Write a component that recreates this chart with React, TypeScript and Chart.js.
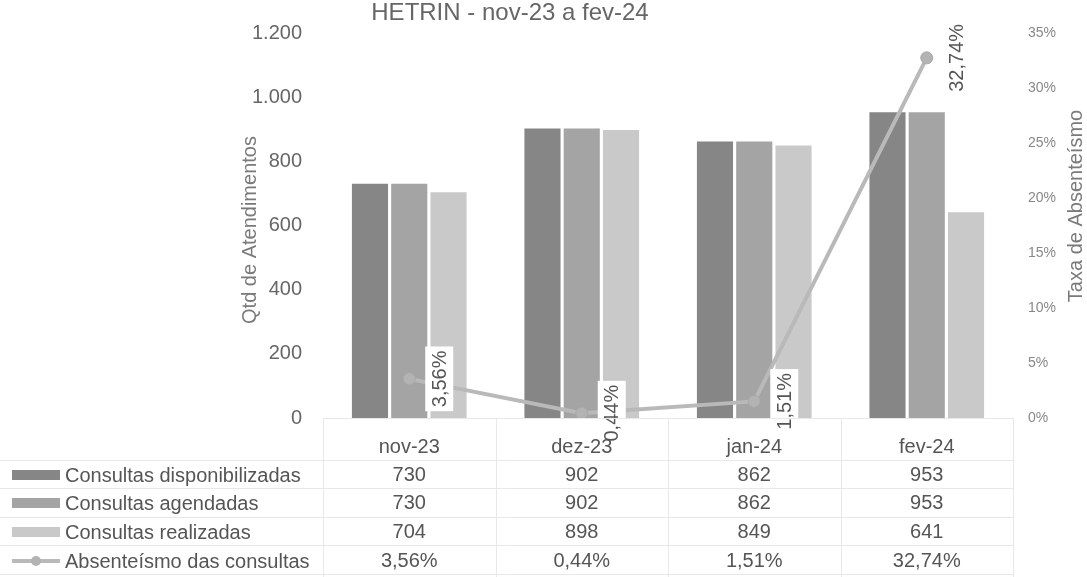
import React, { useEffect, useRef } from 'react';
import { Chart, registerables } from 'chart.js';

Chart.register(...registerables);

const categories = ['nov-23', 'dez-23', 'jan-24', 'fev-24'];
const disponibilizadas = [730, 902, 862, 953];
const agendadas = [730, 902, 862, 953];
const realizadas = [704, 898, 849, 641];
const absenteismo = [3.56, 0.44, 1.51, 32.74];
const seriesNames = [
  'Consultas disponibilizadas',
  'Consultas agendadas',
  'Consultas realizadas',
  'Absenteísmo das consultas',
];
const chartTitle = 'HETRIN - nov-23 a fev-24';
const leftAxisTitle = 'Qtd de Atendimentos';
const rightAxisTitle = 'Taxa de Absenteísmo';

const W = 1087;
const H = 577;
const FONT = "'Liberation Sans', Arial, sans-serif";
const barColors = ['#868686', '#a4a4a4', '#c9c9c9'];
const lineColor = '#b9b9b9';

const fmtInt = (v: number) => String(v).replace(/\B(?=(\d{3})+(?!\d))/g, '.');
const fmtPct = (v: number) => v.toFixed(2).replace('.', ',') + '%';

export default function App() {
  const ref = useRef<HTMLCanvasElement>(null);

  useEffect(() => {
    const canvas = ref.current!;

    const decorPlugin = {
      id: 'decor',
      afterDatasetsDraw(chart: any) {
        const ctx = chart.ctx;
        const meta = chart.getDatasetMeta(3);
        ctx.save();
        ctx.font = `20px ${FONT}`;
        meta.data.forEach((pt: any, i: number) => {
          const txt = fmtPct(absenteismo[i]);
          const w = ctx.measureText(txt).width;
          ctx.save();
          ctx.translate(pt.x + 30, pt.y);
          ctx.rotate(-Math.PI / 2);
          ctx.fillStyle = '#ffffff';
          ctx.fillRect(-w / 2 - 4, -14, w + 8, 28);
          ctx.fillStyle = '#555555';
          ctx.textAlign = 'center';
          ctx.textBaseline = 'middle';
          ctx.fillText(txt, 0, 1);
          ctx.restore();
        });
        ctx.restore();
      },
      afterDraw(chart: any) {
        const ctx = chart.ctx;
        const xs = chart.scales.x;
        const area = chart.chartArea;
        ctx.save();
        ctx.font = `24px ${FONT}`;
        ctx.fillStyle = '#666666';
        ctx.textAlign = 'center';
        ctx.textBaseline = 'middle';
        ctx.fillText(chartTitle, 510, 13);

        ctx.font = `20px ${FONT}`;
        ctx.fillStyle = '#7a7a7a';
        ctx.save();
        ctx.translate(250, 230);
        ctx.rotate(-Math.PI / 2);
        ctx.fillText(leftAxisTitle, 0, 0);
        ctx.restore();
        ctx.save();
        ctx.translate(1076, 206);
        ctx.rotate(-Math.PI / 2);
        ctx.fillText(rightAxisTitle, 0, 0);
        ctx.restore();

        const bounds = [area.bottom, 461, 489, 518, 546, 575];
        const rowY = [475, 503, 532, 561];
        const headerY = 447;
        ctx.strokeStyle = '#e8e8e8';
        ctx.lineWidth = 1;
        ctx.beginPath();
        ctx.moveTo(area.left, area.bottom + 0.5);
        ctx.lineTo(area.right, area.bottom + 0.5);
        for (let r = 1; r < bounds.length; r++) {
          ctx.moveTo(0, bounds[r] - 0.5);
          ctx.lineTo(area.right, bounds[r] - 0.5);
        }
        const step = (area.right - area.left) / categories.length;
        for (let c = 0; c <= categories.length; c++) {
          const x = Math.round(area.left + c * step) + 0.5;
          ctx.moveTo(x, area.bottom);
          ctx.lineTo(x, H);
        }
        ctx.stroke();

        ctx.font = `20px ${FONT}`;
        ctx.fillStyle = '#555555';
        ctx.textAlign = 'center';
        ctx.textBaseline = 'middle';
        const rows = [disponibilizadas, agendadas, realizadas];
        categories.forEach((cat, i) => {
          const x = xs.getPixelForValue(i);
          ctx.fillText(cat, x, headerY);
          rows.forEach((row, r) => ctx.fillText(fmtInt(row[i]), x, rowY[r]));
          ctx.fillText(fmtPct(absenteismo[i]), x, rowY[3]);
        });

        ctx.textAlign = 'left';
        seriesNames.forEach((name, r) => {
          const y = rowY[r];
          if (r < 3) {
            ctx.fillStyle = barColors[r];
            ctx.fillRect(12, y - 5, 48, 10);
          } else {
            ctx.strokeStyle = lineColor;
            ctx.lineWidth = 4;
            ctx.beginPath();
            ctx.moveTo(12, y);
            ctx.lineTo(60, y);
            ctx.stroke();
            ctx.fillStyle = '#b3b3b3';
            ctx.beginPath();
            ctx.arc(36, y, 5, 0, Math.PI * 2);
            ctx.fill();
          }
          ctx.fillStyle = '#555555';
          ctx.fillText(name, 65, y + 1);
        });
        ctx.restore();
      },
    };

    const chart = new Chart(canvas, {
      type: 'bar',
      data: {
        labels: categories,
        datasets: [
          { label: seriesNames[0], data: disponibilizadas, backgroundColor: barColors[0], yAxisID: 'y', order: 1, categoryPercentage: 0.683, barPercentage: 0.92 },
          { label: seriesNames[1], data: agendadas, backgroundColor: barColors[1], yAxisID: 'y', order: 1, categoryPercentage: 0.683, barPercentage: 0.92 },
          { label: seriesNames[2], data: realizadas, backgroundColor: barColors[2], yAxisID: 'y', order: 1, categoryPercentage: 0.683, barPercentage: 0.92 },
          {
            type: 'line',
            label: seriesNames[3],
            data: absenteismo,
            yAxisID: 'y1',
            order: 0,
            borderColor: lineColor,
            borderWidth: 4,
            pointRadius: 6,
            pointBackgroundColor: '#b3b3b3',
            pointBorderColor: '#a8a8a8',
            pointBorderWidth: 1,
            tension: 0,
          } as any,
        ],
      },
      options: {
        responsive: false,
        animation: false,
        devicePixelRatio: 1,
        layout: { padding: { top: 22, bottom: H - 418, left: 0, right: 0 } },
        plugins: { legend: { display: false }, title: { display: false }, tooltip: { enabled: false } },
        scales: {
          x: { type: 'category', display: false, offset: true, grid: { display: false } },
          y: {
            position: 'left',
            min: 0,
            max: 1200,
            grid: { display: false, drawTicks: false },
            border: { display: false },
            ticks: {
              stepSize: 200,
              padding: 21,
              color: '#666666',
              font: { family: FONT, size: 20 },
              callback: (v: any) => fmtInt(Number(v)),
            },
            afterFit: (s: any) => { s.width = 323; },
          },
          y1: {
            position: 'right',
            min: 0,
            max: 35,
            grid: { display: false, drawTicks: false },
            border: { display: false },
            ticks: {
              stepSize: 5,
              padding: 15,
              color: '#888888',
              font: { family: FONT, size: 14 },
              callback: (v: any) => `${v}%`,
            },
            afterFit: (s: any) => { s.width = W - 1013; },
          },
        },
      } as any,
      plugins: [decorPlugin],
    });

    return () => chart.destroy();
  }, []);

  return (
    <div style={{ position: 'fixed', left: 0, top: 0, width: W, height: H, background: '#ffffff' }}>
      <canvas ref={ref} width={W} height={H} style={{ display: 'block', width: W, height: H }} />
    </div>
  );
}
